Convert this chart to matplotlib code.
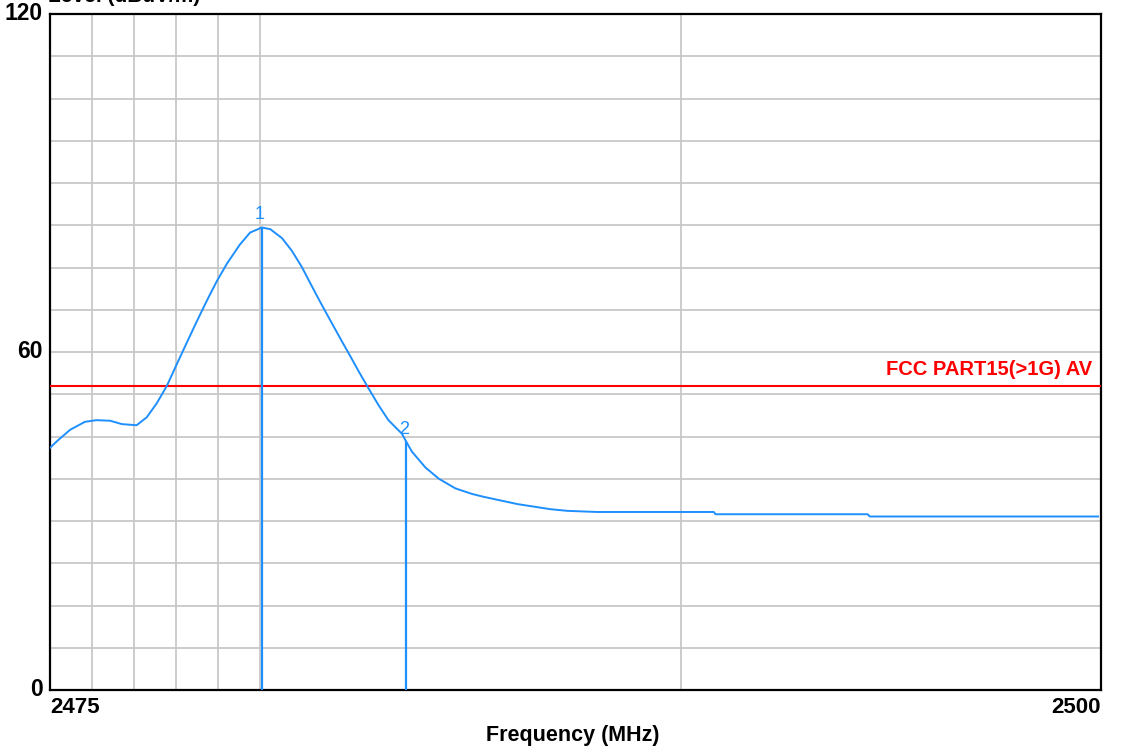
import matplotlib
matplotlib.use("Agg")
import matplotlib.pyplot as plt

plt.rcParams['font.family'] = ['Liberation Sans', 'DejaVu Sans']

# Data
freq = [2475.0, 2475.20, 2475.48, 2475.83, 2476.10, 2476.43, 2476.71, 2477.06,
        2477.30, 2477.54, 2477.78, 2478.02, 2478.25, 2478.49, 2478.73, 2478.97,
        2479.21, 2479.52, 2479.76, 2480.04, 2480.24, 2480.52, 2480.75, 2480.99,
        2481.15, 2481.39, 2481.55, 2481.75, 2481.95, 2482.14, 2482.34, 2482.58,
        2482.82, 2483.05, 2483.37, 2483.48, 2483.61, 2483.93, 2484.25, 2484.64,
        2485.04, 2485.31, 2486.12, 2486.90, 2487.31, 2488.02, 2490.79, 2490.83,
        2494.45, 2494.50, 2499.93]
level = [43.0, 44.4, 46.2, 47.6, 47.9, 47.8, 47.2, 47.0,
         48.4, 50.9, 54.0, 57.9, 61.6, 65.4, 69.1, 72.6,
         75.7, 79.1, 81.2, 82.1, 81.8, 80.2, 78.0, 75.1,
         72.8, 69.4, 67.2, 64.5, 61.8, 59.3, 56.6, 53.5,
         50.5, 47.9, 45.5, 44.0, 42.3, 39.5, 37.5, 35.8,
         34.8, 34.3, 33.0, 32.1, 31.8, 31.6, 31.6, 31.2,
         31.2, 30.8, 30.8]

marker_freq = [2480.04, 2483.48]
marker_level = [82.1, 44.0]
marker_labels = ['1', '2']

limit_level = 54.0
limit_label = 'FCC PART15(>1G) AV'

xgrid = [2476, 2477, 2478, 2479, 2480, 2490]
ygrid = [7.5 * i for i in range(1, 16)]

xmin, xmax = 2475, 2500
ymin, ymax = 0, 120

W, H = 1121, 749
fig = plt.figure(figsize=(W / 100, H / 100), dpi=100)
ax = fig.add_axes([50 / W, (H - 690) / H, 1051 / W, 676 / H])
ax.set_xlim(xmin, xmax)
ax.set_ylim(ymin, ymax)

blue = '#1E8FFF'
grid_c = '#C8C8C8'

for g in xgrid:
    ax.axvline(g, color=grid_c, lw=1.3, zorder=1)
for g in ygrid:
    if g < ymax:
        ax.axhline(g, color=grid_c, lw=1.3, zorder=1)

ax.axhline(limit_level, color='#FF0000', lw=1.5, zorder=3)
ax.text(2499.8, limit_level + 1.2, limit_label, color='#FF0000', fontsize=14.5,
        fontweight='bold', ha='right', va='bottom', zorder=4)

ax.plot(freq, level, color=blue, lw=1.4, zorder=5)

for f, v, lab in zip(marker_freq, marker_level, marker_labels):
    ax.plot([f, f], [0, v], color=blue, lw=1.6, zorder=5)
    ax.text(f - 0.05, v + 0.8, lab, color=blue, fontsize=13, ha='center',
            va='bottom', zorder=6)

for s in ax.spines.values():
    s.set_color('black')
    s.set_linewidth(1.6)

ax.set_xticks([])
ax.set_yticks([])

# Tick labels
for v in [0, 60, 120]:
    ax.text(-0.007, (v - ymin) / (ymax - ymin), str(v), transform=ax.transAxes,
            ha='right', va='center', fontsize=16.5, fontweight='bold')
ax.text(0.0, -0.011, '2475', transform=ax.transAxes, ha='left', va='top',
        fontsize=16, fontweight='bold')
ax.text(1.0, -0.011, '2500', transform=ax.transAxes, ha='right', va='top',
        fontsize=16, fontweight='bold')

fig.text(573 / W, 1 - 735 / H, 'Frequency (MHz)', ha='center', va='center',
         fontsize=15.5, fontweight='bold')
fig.text(48 / W, 1 - 6 / H, 'Level (dBuV/m)', ha='left', va='bottom',
         fontsize=15, fontweight='bold')

fig.savefig('out.png', dpi=100, facecolor='white')
